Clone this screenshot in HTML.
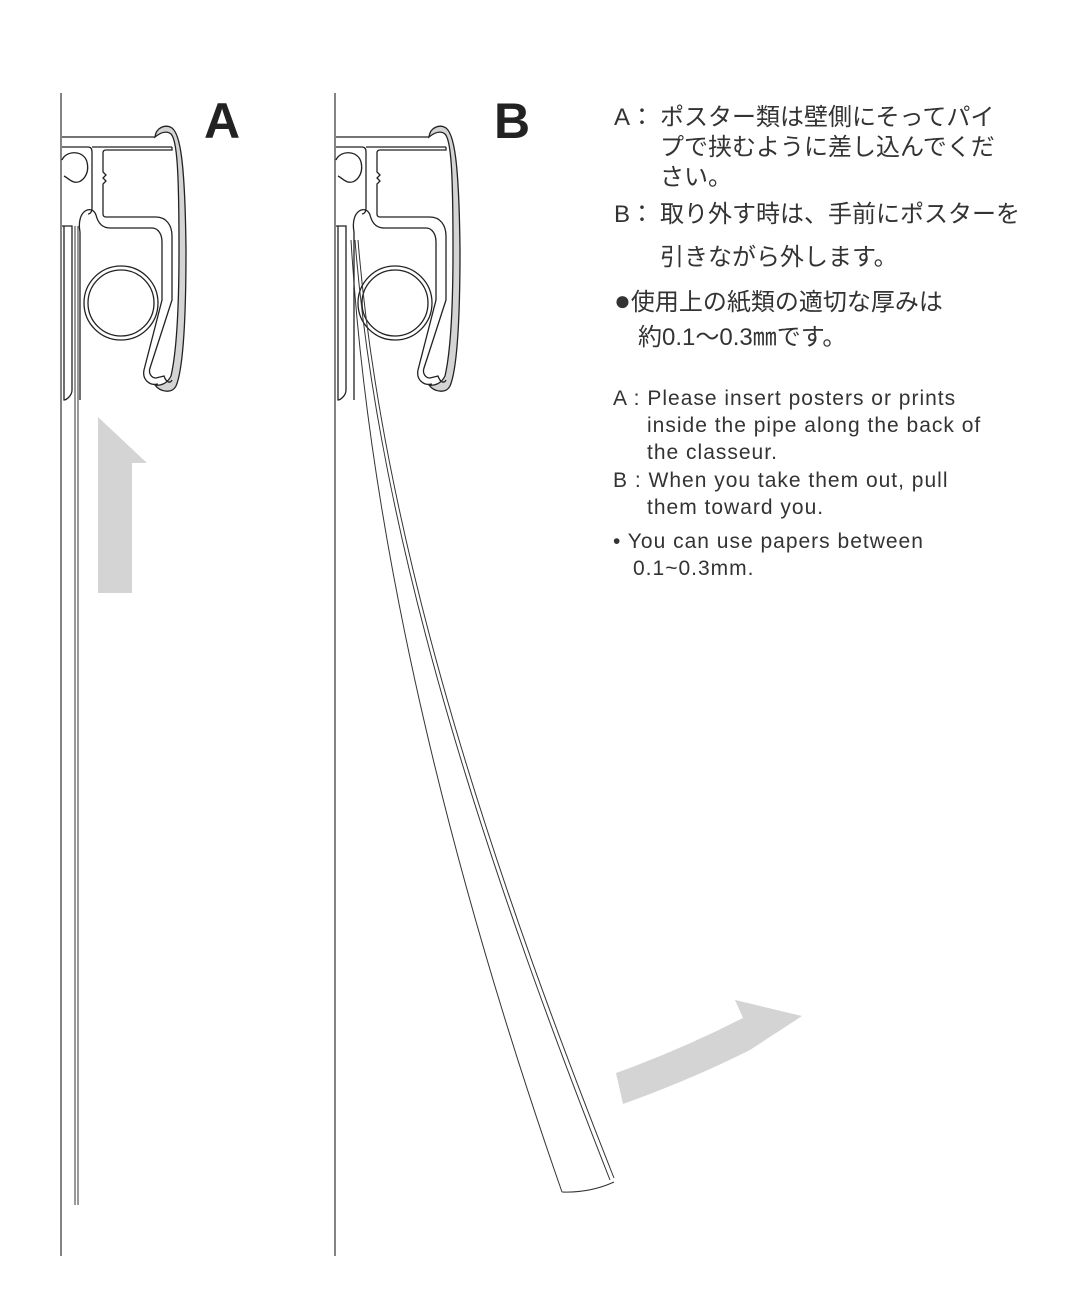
<!DOCTYPE html>
<html><head><meta charset="utf-8"><style>
html,body{margin:0;padding:0;background:#fff;}
body{width:1068px;height:1296px;overflow:hidden;position:relative;}
svg{position:absolute;left:0;top:0;}
</style></head><body>
<svg width="1068" height="1296" viewBox="0 0 1068 1296" xmlns="http://www.w3.org/2000/svg">
<defs>
<g id="prof" fill="none" stroke="#222" stroke-width="1.3">
  <path d="M155,137 C156,127 166,124 172,128 C180,134 185,160 186,250 C186,330 182,372 176,386 C172,394 160,392 155,385 C160,386 167,384 171,376 C177,350 179,300 179,250 C179,170 177,140 171,134 C166,130 160,133 155,137 Z" fill="#d4d4d4"/>
  <path d="M62,137 L155,137"/>
  <path d="M92,147 L172,147"/>
  <path d="M62,147 L88,147 C91,147 92,149 92,152 L92,208 C92,214 88,214 88,214"/>
  <path d="M62,160 C66,150 84,150 87,162 C90,174 82,184 74,182 C70,181 68,178 64,176" />
  <path d="M172,147 L172,150 L106,150 C104,150 103,151 103,153 L103,172 L106,175 L103,178 L106,181 L103,184 L103,214 C103,216 104,217 106,217 L156,217 C166,217 172,225 172,236 L172,300 L150,368 C148,374 152,378 156,378 L164,376 C166,382 170,384 172,380"/>
  <path d="M80,232 C76,210 92,204 96,215 C98,223 102,228 110,228 L152,228 C158,228 162,234 162,242 L162,300 L144,370 C142,380 150,386 158,384"/>
  <path d="M62,226 L72,226 L72,390 C72,396 66,400 64,400 L64,226"/>
  <path d="M80,232 L80,400"/>
  <circle cx="121" cy="303" r="37"/>
  <circle cx="121" cy="303" r="33"/>
</g>
</defs>
<line x1="61" y1="93" x2="61" y2="1256" stroke="#333" stroke-width="1.2"/>
<line x1="335" y1="93" x2="335" y2="1256" stroke="#333" stroke-width="1.2"/>
<use href="#prof"/>
<use href="#prof" transform="translate(274,0)"/>
<line x1="75" y1="226" x2="75" y2="1205" stroke="#333" stroke-width="1"/>
<line x1="78" y1="226" x2="78" y2="1205" stroke="#333" stroke-width="1"/>
<path d="M351,240 C370,560 460,900 562,1192" fill="none" stroke="#333" stroke-width="1"/>
<path d="M355,240 C380,560 500,900 610,1180" fill="none" stroke="#333" stroke-width="1"/>
<path d="M358,240 C384,560 504,900 614,1178" fill="none" stroke="#333" stroke-width="1"/>
<path d="M562,1192 Q590,1193 614,1182" fill="none" stroke="#333" stroke-width="1"/>
<polygon points="98,417 147,463 132,463 132,593 98,593" fill="#d4d4d4"/>
<path d="M616,1073 Q680,1050 743,1018 L735,1000 L802,1016 L750,1050 Q690,1080 623,1104 Z" fill="#d4d4d4"/>
<text x="204" y="138" font-family="Liberation Sans, sans-serif" font-weight="bold" font-size="50" fill="#222">A</text>
<text x="494" y="138" font-family="Liberation Sans, sans-serif" font-weight="bold" font-size="50" fill="#222">B</text>
<g font-family="Liberation Sans, 'Noto Sans CJK JP', sans-serif" font-size="24" fill="#333">
<text x="614" y="125">A：</text><text x="660" y="125">ポスター類は壁側にそってパイ</text>
<text x="660" y="155">プで挟むように差し込んでくだ</text>
<text x="660" y="185">さい。</text>
<text x="614" y="222">B：</text><text x="660" y="222">取り外す時は、手前にポスターを</text>
<text x="660" y="265">引きながら外します。</text>
<text x="614" y="310"><tspan font-size="28">●</tspan>使用上の紙類の適切な厚みは</text>
<text x="638" y="345">約0.1～0.3㎜です。</text>
</g>
<g font-family="Liberation Sans, sans-serif" font-size="21" letter-spacing="1" fill="#333">
<text x="613" y="405">A : Please insert posters or prints</text>
<text x="647" y="432">inside the pipe along the back of</text>
<text x="647" y="459">the classeur.</text>
<text x="613" y="487">B : When you take them out, pull</text>
<text x="647" y="514">them toward you.</text>
<text x="613" y="548">• You can use papers between</text>
<text x="633" y="575">0.1~0.3mm.</text>
</g>
</svg>
</body></html>
